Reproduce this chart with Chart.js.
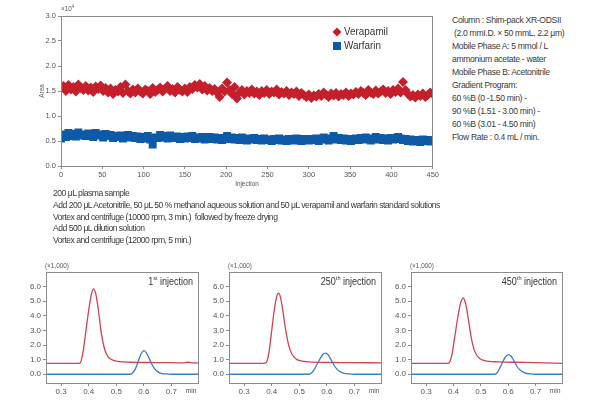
<!DOCTYPE html>
<html>
<head>
<meta charset="utf-8">
<script src="https://cdn.jsdelivr.net/npm/chart.js@4.4.0/dist/chart.umd.min.js"></script>
<style>
body { margin: 0; background: #fff; }
#wrap { position: relative; width: 600px; height: 400px; overflow: hidden; background: #fff;
        font-family: "Liberation Sans", sans-serif; color: #3a3a3a; }
#wrap canvas { position: absolute; }
.block { position: absolute; font-size: 8.6px; white-space: nowrap; }
#cond { left: 452px; top: 13.5px; line-height: 13.1px; letter-spacing: -0.33px; }
#prep { left: 53px; top: 188px; line-height: 11.8px; letter-spacing: -0.5px; }
</style>
</head>
<body>
<div id="wrap">
  <canvas id="areaChart" width="440" height="195" style="left:0;top:0"></canvas>
  <canvas id="inj1" width="200" height="145" style="left:0;top:255px"></canvas>
  <canvas id="inj250" width="200" height="145" style="left:183px;top:255px"></canvas>
  <canvas id="inj450" width="200" height="145" style="left:365px;top:255px"></canvas>
  <div class="block" id="cond">
    Column : Shim-pack XR-ODSII<br>
    &nbsp;(2.0 mmI.D. × 50 mmL, 2.2 μm)<br>
    Mobile Phase A: 5 mmol / L<br>
    ammonium acetate - water<br>
    Mobile Phase B: Acetonitrile<br>
    Gradient Program:<br>
    60 %B (0 -1.50 min) -<br>
    90 %B (1.51 - 3.00 min) -<br>
    60 %B (3.01 - 4.50 min)<br>
    Flow Rate : 0.4 mL / min.
  </div>
  <div class="block" id="prep">
    200 μL plasma sample<br>
    Add 200 μL Acetonitrile, 50 μL 50 % methanol aqueous solution and 50 μL verapamil and warfarin standard solutions<br>
    Vortex and centrifuge (10000 rpm, 3 min.)&nbsp; followed by freeze drying<br>
    Add 500 μL dilution solution<br>
    Vortex and centrifuge (12000 rpm, 5 min.)
  </div>
</div>
<script>
// peak area (x10^4), one reading every 3 injections from 0 to 450
const injStep = 3;
const verapamilArea = [
    1.55,1.60,1.50,1.62,1.53,1.58,1.49,1.63,1.56,1.52,
    1.60,1.51,1.57,1.48,1.59,1.54,1.61,1.50,1.56,1.47,
    1.55,1.44,1.52,1.49,1.58,1.46,1.63,1.50,1.45,1.53,
    1.47,1.55,1.49,1.45,1.53,1.50,1.44,1.56,1.48,1.52,
    1.57,1.49,1.55,1.60,1.50,1.54,1.47,1.58,1.52,1.49,
    1.55,1.48,1.58,1.54,1.62,1.57,1.64,1.53,1.60,1.51,
    1.56,1.50,1.54,1.47,1.38,1.55,1.49,1.67,1.52,1.44,
    1.58,1.35,1.47,1.52,1.43,1.50,1.46,1.53,1.45,1.49,
    1.42,1.50,1.46,1.52,1.44,1.49,1.47,1.53,1.43,1.48,
    1.45,1.50,1.42,1.47,1.44,1.49,1.40,1.46,1.42,1.38,
    1.43,1.36,1.41,1.39,1.44,1.40,1.47,1.42,1.38,1.45,
    1.41,1.46,1.39,1.44,1.42,1.47,1.40,1.45,1.43,1.48,
    1.44,1.50,1.46,1.42,1.52,1.47,1.44,1.51,1.45,1.49,
    1.53,1.46,1.50,1.44,1.52,1.48,1.55,1.47,1.68,1.52,
    1.44,1.39,1.42,1.37,1.43,1.40,1.45,1.38,1.42,1.47,
    1.44
];
const warfarinArea = [
    0.55,0.63,0.58,0.66,0.60,0.64,0.59,0.67,0.61,0.63,
    0.60,0.65,0.62,0.58,0.66,0.61,0.63,0.57,0.64,0.60,
    0.62,0.56,0.60,0.58,0.61,0.55,0.59,0.62,0.57,0.60,
    0.56,0.59,0.54,0.58,0.55,0.60,0.53,0.43,0.57,0.56,
    0.62,0.57,0.60,0.55,0.61,0.58,0.56,0.59,0.54,0.58,
    0.55,0.59,0.56,0.60,0.54,0.57,0.55,0.58,0.53,0.56,
    0.58,0.54,0.57,0.53,0.56,0.52,0.55,0.60,0.54,0.57,
    0.53,0.56,0.52,0.57,0.54,0.51,0.55,0.53,0.56,0.52,
    0.54,0.51,0.55,0.52,0.53,0.50,0.54,0.52,0.55,0.51,
    0.53,0.50,0.54,0.52,0.51,0.55,0.53,0.50,0.54,0.52,
    0.51,0.54,0.52,0.55,0.50,0.53,0.57,0.54,0.51,0.55,
    0.60,0.53,0.56,0.52,0.55,0.51,0.54,0.50,0.53,0.55,
    0.52,0.56,0.53,0.57,0.54,0.51,0.55,0.58,0.53,0.56,
    0.52,0.55,0.51,0.56,0.53,0.54,0.58,0.55,0.52,0.54,
    0.50,0.53,0.49,0.52,0.51,0.48,0.53,0.50,0.52,0.49,
    0.51
];
const areaTicksY = [0, 0.5, 1.0, 1.5, 2.0, 2.5, 3.0];
const areaTicksX = [0, 50, 100, 150, 200, 250, 300, 350, 400, 450];

// chromatograms: [time (min), intensity (x1,000)]
const verapamil1 = [[0.245,0.75],[0.365,0.75],[0.37,0.8],[0.38,1.6],[0.39,3.0],[0.40,4.4],[0.41,5.5],[0.417,5.85],
    [0.425,5.55],[0.435,4.4],[0.445,2.9],[0.455,1.9],[0.465,1.35],[0.475,1.1],[0.49,0.95],[0.51,0.86],[0.55,0.82],
    [0.65,0.8],[0.74,0.78],[0.76,0.82],[0.78,0.78],[0.80,0.77]];
const warfarin1 = [[0.245,0],[0.55,0],[0.56,0.1],[0.57,0.4],[0.58,0.9],[0.59,1.4],[0.60,1.62],[0.61,1.45],[0.62,1.05],
    [0.63,0.65],[0.64,0.35],[0.65,0.18],[0.66,0.08],[0.68,0.02],[0.70,0],[0.80,0]];
const verapamil250 = [[0.245,0.75],[0.37,0.75],[0.38,0.8],[0.39,1.5],[0.40,3.0],[0.41,4.5],[0.42,5.45],[0.424,5.56],
    [0.43,5.4],[0.44,4.4],[0.45,3.1],[0.46,2.1],[0.47,1.5],[0.48,1.2],[0.49,1.02],[0.51,0.9],[0.55,0.83],[0.65,0.8],[0.80,0.78]];
const warfarin250 = [[0.245,0],[0.535,0],[0.545,0.1],[0.555,0.35],[0.565,0.7],[0.575,1.05],[0.585,1.35],[0.595,1.45],
    [0.605,1.33],[0.615,1.0],[0.625,0.65],[0.635,0.38],[0.645,0.2],[0.66,0.08],[0.68,0.02],[0.70,0],[0.80,0]];
const verapamil450 = [[0.245,0.75],[0.38,0.75],[0.385,0.8],[0.395,1.4],[0.405,2.6],[0.415,3.8],[0.425,4.8],[0.435,5.22],
    [0.445,4.8],[0.455,3.7],[0.465,2.5],[0.475,1.7],[0.485,1.3],[0.495,1.1],[0.51,0.95],[0.53,0.88],[0.56,0.85],
    [0.62,0.82],[0.70,0.8],[0.80,0.75]];
const warfarin450 = [[0.245,0],[0.55,0],[0.56,0.12],[0.57,0.45],[0.58,0.85],[0.59,1.18],[0.601,1.34],[0.61,1.25],
    [0.62,0.95],[0.63,0.6],[0.64,0.35],[0.65,0.2],[0.66,0.1],[0.68,0.02],[0.70,0],[0.80,0]];
const timeTicks = [0.3, 0.4, 0.5, 0.6, 0.7];
const intensityTicks = [0, 1, 2, 3, 4, 5, 6];

const RED = "#c41f2b", BLUE = "#0d5aa7";
const LINE_RED = "#d2434f", LINE_BLUE = "#3a7ec2";
const FONT = "'Liberation Sans', sans-serif";
const AXIS = "#8c8c8c";

// text with optional superscript parts: parts = [[text, isSup], ...]
// squeeze < 1 narrows the glyphs horizontally, like the condensed face of the original
function drawRich(ctx, parts, x, y, size, align, squeeze) {
    const sq = squeeze || 1;
    let w = 0;
    parts.forEach(p => {
        ctx.font = (p[1] ? size * 0.62 : size) + "px " + FONT;
        w += ctx.measureText(p[0]).width * sq;
    });
    let cx = align === "right" ? x - w : align === "center" ? x - w / 2 : x;
    ctx.textAlign = "left";
    ctx.textBaseline = "middle";
    parts.forEach(p => {
        const s = p[1] ? size * 0.62 : size;
        ctx.font = s + "px " + FONT;
        ctx.save();
        ctx.translate(cx, p[1] ? y - size * 0.33 : y);
        ctx.scale(sq, 1);
        ctx.fillText(p[0], 0, 0);
        ctx.restore();
        cx += ctx.measureText(p[0]).width * sq;
    });
}

const framePlugin = {
    id: "frame",
    afterDatasetsDraw(chart) {
        const { ctx, chartArea: a } = chart;
        ctx.save();
        ctx.strokeStyle = AXIS;
        ctx.lineWidth = 1;
        ctx.strokeRect(Math.round(a.left) + 0.5, Math.round(a.top) + 0.5,
            Math.round(a.right - a.left) - 1, Math.round(a.bottom - a.top));
        ctx.restore();
    }
};

const notesPlugin = {
    id: "notes",
    afterDraw(chart, args, opts) {
        const ctx = chart.ctx;
        (opts.items || []).forEach(it => {
            ctx.save();
            ctx.fillStyle = it.color || "#444";
            if (it.marker) {
                ctx.beginPath();
                if (it.marker === "diamond") {
                    ctx.moveTo(it.x, it.y - 4.5); ctx.lineTo(it.x + 4.5, it.y);
                    ctx.lineTo(it.x, it.y + 4.5); ctx.lineTo(it.x - 4.5, it.y);
                    ctx.closePath();
                } else {
                    ctx.rect(it.x - 4, it.y - 4, 8, 8);
                }
                ctx.fill();
            } else if (it.rotate) {
                ctx.translate(it.x, it.y);
                ctx.rotate(it.rotate);
                drawRich(ctx, it.parts, 0, 0, it.size, it.align, it.squeeze);
            } else {
                drawRich(ctx, it.parts, it.x, it.y, it.size, it.align, it.squeeze);
            }
            ctx.restore();
        });
    }
};

function fixedTicks(list) {
    return scale => { scale.ticks = list.map(v => ({ value: v })); };
}

// upper chart: peak area vs injection number
new Chart(document.getElementById("areaChart"), {
    type: "scatter",
    data: {
        datasets: [{
            label: "Warfarin",
            data: warfarinArea.map((v, i) => ({ x: i * injStep, y: v })),
            backgroundColor: BLUE, borderWidth: 0,
            pointStyle: "rect", pointRadius: 5.6
        }, {
            label: "Verapamil",
            data: verapamilArea.map((v, i) => ({ x: i * injStep, y: v })),
            backgroundColor: RED, borderWidth: 0,
            pointStyle: "rectRot", pointRadius: 5
        }]
    },
    options: {
        responsive: false, animation: false,
        layout: { padding: { left: 0, top: 16, right: 6, bottom: 0 } },
        plugins: {
            legend: { display: false }, tooltip: { enabled: false },
            notes: {
                items: [
                    { parts: [["×10", false], ["4", true]], x: 61, y: 9, size: 7.5, align: "left", color: "#555", squeeze: 0.85 },
                    { parts: [["Area", false]], x: 42, y: 91, size: 7.5, align: "center", rotate: -Math.PI / 2, color: "#555", squeeze: 0.85 },
                    { parts: [["Injection", false]], x: 247, y: 184, size: 7.5, align: "center", color: "#555", squeeze: 0.85 },
                    { marker: "diamond", x: 337, y: 32, color: RED },
                    { parts: [["Verapamil", false]], x: 344, y: 32, size: 11, align: "left", color: "#333", squeeze: 0.9 },
                    { marker: "rect", x: 337, y: 46, color: BLUE },
                    { parts: [["Warfarin", false]], x: 344, y: 46, size: 11, align: "left", color: "#333", squeeze: 0.9 }
                ]
            }
        },
        scales: {
            x: {
                type: "linear", min: 0, max: 450,
                afterBuildTicks: fixedTicks(areaTicksX),
                afterFit: s => { s.height = 29; },
                border: { display: false },
                grid: { drawOnChartArea: false, tickLength: 3, color: AXIS },
                ticks: { color: "#555", padding: 1, maxRotation: 0, font: { family: FONT, size: 7.5 } }
            },
            y: {
                min: 0, max: 3.0,
                afterBuildTicks: fixedTicks(areaTicksY),
                afterFit: s => { s.width = 61; },
                border: { display: false },
                grid: { drawOnChartArea: false, tickLength: 3, color: AXIS },
                ticks: { color: "#555", padding: 2, font: { family: FONT, size: 7.5 },
                         callback: v => v.toFixed(1) }
            }
        }
    },
    plugins: [framePlugin, notesPlugin]
});

// lower charts: chromatograms
function chromatogram(id, red, blue, label, rightPad) {
    new Chart(document.getElementById(id), {
        type: "line",
        data: {
            datasets: [{
                data: blue.map(p => ({ x: p[0], y: p[1] })),
                borderColor: LINE_BLUE, borderWidth: 1.3, pointRadius: 0,
                cubicInterpolationMode: "monotone"
            }, {
                data: red.map(p => ({ x: p[0], y: p[1] })),
                borderColor: LINE_RED, borderWidth: 1.3, pointRadius: 0,
                cubicInterpolationMode: "monotone"
            }]
        },
        options: {
            responsive: false, animation: false,
            layout: { padding: { left: 0, top: 17, right: rightPad, bottom: 0 } },
            plugins: {
                legend: { display: false }, tooltip: { enabled: false },
                notes: {
                    items: [
                        { parts: [["(×1,000)", false]], x: 45, y: 11, size: 7.5, align: "left", color: "#555", squeeze: 0.85 },
                        { parts: label, x: 200 - rightPad - 6, y: 27, size: 10, align: "right", color: "#333", squeeze: 0.9 },
                        { parts: [["min", false]], x: 200 - rightPad - 8, y: 136, size: 8, align: "center", color: "#555", squeeze: 0.85 }
                    ]
                }
            },
            scales: {
                x: {
                    type: "linear", min: 0.245, max: 0.8,
                    afterBuildTicks: fixedTicks(timeTicks),
                    afterFit: s => { s.height = 17; },
                    border: { display: false },
                    grid: { drawOnChartArea: false, tickLength: 3, color: AXIS },
                    ticks: { color: "#555", padding: 1, maxRotation: 0, font: { family: FONT, size: 8 },
                             callback: v => v.toFixed(1) }
                },
                y: {
                    min: -0.6, max: 7.0,
                    afterBuildTicks: fixedTicks(intensityTicks),
                    afterFit: s => { s.width = 46; },
                    border: { display: false },
                    grid: { drawOnChartArea: false, tickLength: 3, color: AXIS },
                    ticks: { color: "#555", padding: 2, font: { family: FONT, size: 8 },
                             callback: v => v.toFixed(1) }
                }
            }
        },
        plugins: [framePlugin, notesPlugin]
    });
}

chromatogram("inj1", verapamil1, warfarin1, [["1", false], ["st", true], [" injection", false]], 1);
chromatogram("inj250", verapamil250, warfarin250, [["250", false], ["th", true], [" injection", false]], 1);
chromatogram("inj450", verapamil450, warfarin450, [["450", false], ["th", true], [" injection", false]], 2);
</script>
</body>
</html>
